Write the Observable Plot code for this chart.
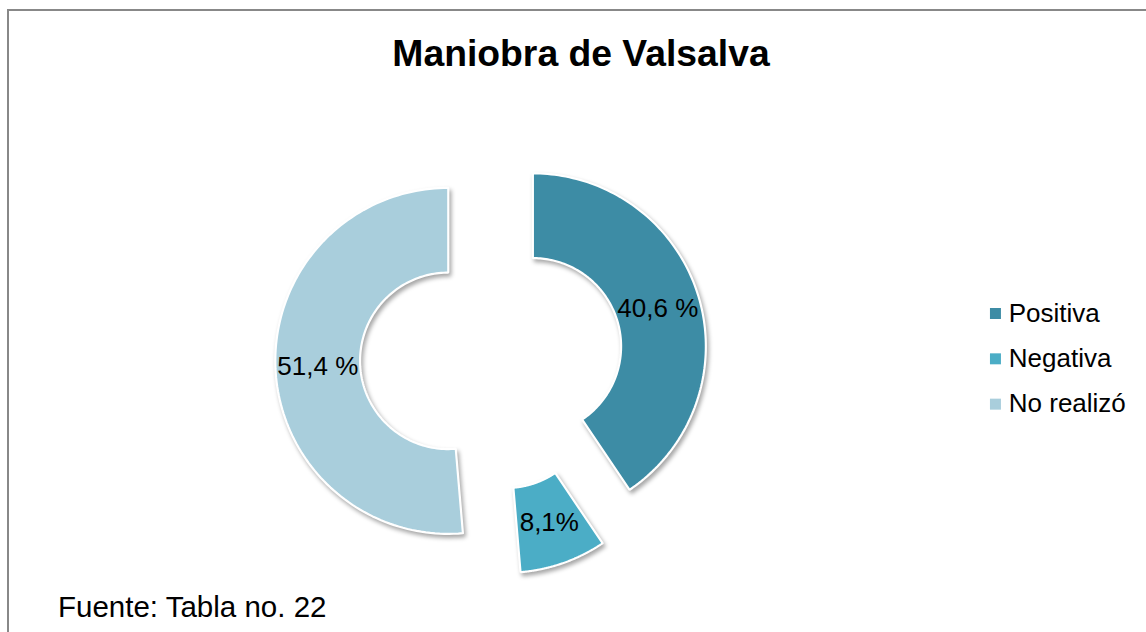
<!DOCTYPE html>
<html><head><meta charset="utf-8">
<script src="https://cdn.jsdelivr.net/npm/d3@7"></script>
<script src="https://cdn.jsdelivr.net/npm/@observablehq/plot@0.6"></script>
<style>
body{margin:0;background:#fff;font-family:"Liberation Sans",Arial,sans-serif;}
#wrap{position:relative;width:1146px;height:632px;overflow:hidden;background:#fff;}
#frame{position:absolute;left:7px;top:9px;width:1200px;height:700px;border-left:2px solid #888;border-top:2px solid #888;z-index:3;pointer-events:none;}
#title{position:absolute;left:0;width:1162px;top:35px;text-align:center;font-weight:bold;font-size:37.3px;line-height:37px;color:#000;z-index:2;}
#caption{position:absolute;left:58px;top:592px;font-size:29.5px;line-height:29px;color:#000;z-index:2;}
#chart{position:absolute;left:0;top:0;z-index:1;}
</style>
</head><body>
<div id="wrap">
  <div id="frame"></div>
  <div id="title">Maniobra de Valsalva</div>
  <div id="chart"></div>
  <div id="caption">Fuente: Tabla no. 22</div>
</div>
<script>
// ---- data ----
const categories = ["Positiva", "Negativa", "No realizó"];
const values = [40.6, 8.1, 51.4];
const valueLabels = ["40,6 %", "8,1%", "51,4 %"];
const colors = ["#3D8CA5", "#4BADC6", "#A9CEDC"];

// ---- geometry (units of outer radius) ----
const R = 1, r = 0.51, explode = 0.25, steps = 120;
const total = d3.sum(values);
let acc = 0;
const slices = values.map((v, i) => {
  const a0 = acc / total * 2 * Math.PI;
  acc += v;
  const a1 = acc / total * 2 * Math.PI;
  const mid = (a0 + a1) / 2;
  return {label: categories[i], text: valueLabels[i], a0, a1, mid,
          ox: explode * Math.sin(mid), oy: explode * Math.cos(mid)};
});
const pts = [];
for (const s of slices) {
  for (let k = 0; k <= steps; k++) {
    const a = s.a0 + (s.a1 - s.a0) * k / steps;
    pts.push({label: s.label, x: s.ox + R * Math.sin(a), y: s.oy + R * Math.cos(a)});
  }
  for (let k = steps; k >= 0; k--) {
    const a = s.a0 + (s.a1 - s.a0) * k / steps;
    pts.push({label: s.label, x: s.ox + r * Math.sin(a), y: s.oy + r * Math.cos(a)});
  }
  pts.push({label: s.label, x: s.ox + R * Math.sin(s.a0), y: s.oy + R * Math.cos(s.a0)});
}
const labelPts = slices.map(s => ({
  text: s.text,
  x: s.ox + (R + r) / 2 * Math.sin(s.mid),
  y: s.oy + (R + r) / 2 * Math.cos(s.mid)
}));
const legendX = 2.913, legendTextX = 2.99, legendTop = 0.263, legendStep = 0.262;
const legend = categories.map((c, i) => ({label: c, x: legendX, tx: legendTextX, y: legendTop - i * legendStep}));

const W = 1146, H = 632, unit = 173, cx = 491, cy = 358.5;
const plot = Plot.plot({
  width: W, height: H, margin: 0,
  style: {background: "transparent", fontFamily: "'Liberation Sans', Arial, sans-serif", overflow: "visible"},
  x: {domain: [-cx / unit, (W - cx) / unit], axis: null},
  y: {domain: [-(H - cy) / unit, cy / unit], axis: null},
  color: {domain: categories, range: colors},
  marks: [
    Plot.line(pts, {x: "x", y: "y", z: "label", fill: "label", stroke: "white", strokeWidth: 2.2, curve: "linear", strokeLinejoin: "miter"}),
    Plot.text(labelPts, {x: "x", y: "y", text: "text", fontSize: 26, fill: "black"}),
    Plot.dot(legend, {x: "x", y: "y", fill: "label", symbol: "square", r: 6.2, stroke: "none"}),
    Plot.text(legend, {x: "tx", y: "y", text: "label", textAnchor: "start", fontSize: 26, fill: "black"})
  ]
});
document.getElementById("chart").appendChild(plot);
d3.select(plot).selectAll('g[aria-label="line"] path')
  .style("filter", "drop-shadow(2px 3px 2px rgba(0,0,0,0.35))");
</script>
</body></html>
